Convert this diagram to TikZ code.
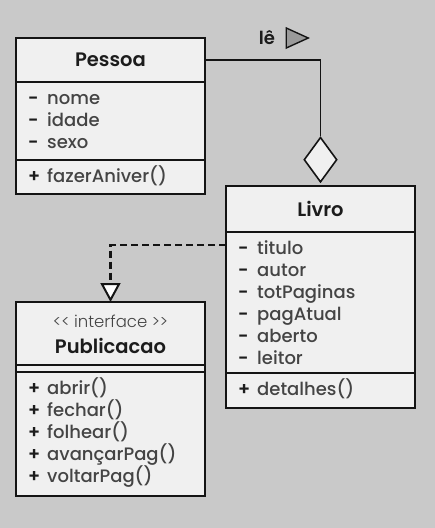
\documentclass[tikz,border=0pt]{standalone}
\usepackage{fontspec}
\setmainfont{Poppins}
\newfontfamily\medfont{Poppins Medium}
\newfontfamily\semifont{Poppins SemiBold}
\newfontfamily\lightfont{Poppins Light}
\usetikzlibrary{calc}
\usetikzlibrary{arrows.meta}
\usetikzlibrary{shapes.geometric}

\definecolor{bgcol}{HTML}{C9C9C9}
\definecolor{boxfill}{HTML}{F0F0F0}
\definecolor{linecol}{HTML}{141414}
\definecolor{titlecol}{HTML}{1C1C1C}
\definecolor{itemcol}{HTML}{444444}
\definecolor{navcol}{HTML}{9A9A9A}

\tikzset{
  classbox/.style={draw=linecol, fill=boxfill, line width=1.8pt, rectangle, anchor=north west, inner sep=0pt, outer sep=0pt, minimum width=189pt},
  classname/.style={font=\fontsize{19.5}{20}\semifont, text=titlecol},
  sign/.style={anchor=mid west, inner sep=0pt, font=\fontsize{18}{18}\semifont, text=titlecol},
  item/.style={anchor=mid west, inner sep=0pt, font=\fontsize{18}{18}\medfont, text=itemcol},
  assoc/.style={draw=linecol, line width=1.6pt},
  realize/.style={draw=linecol, line width=2.6pt, dash pattern=on 7pt off 4pt},
}

% rows of one compartment: node, sign, list
\newcommand{\umlrows}[3]{%
  \foreach \txt [count=\k] in {#3} {
    \node[sign] at ($(#1.north west)+(12,20+22*\k-22)$) {#2};
    \node[item] at ($(#1.north west)+(31,20+22*\k-22)$) {\txt};
  }%
}

\begin{document}
\begin{tikzpicture}[x=1pt,y=1pt,yscale=-1]
\fill[bgcol] (0,0) rectangle (435,528);
\useasboundingbox (0,0) rectangle (435,528);

% Pessoa
\node[classbox, classname, minimum height=44pt] (pessoa) at (16,38) {Pessoa};
\node[classbox, minimum height=78pt] (pessoaattr) at (pessoa.south west) {};
\node[classbox, minimum height=34pt] (pessoaop) at (pessoaattr.south west) {};
\umlrows{pessoaattr}{-}{nome,idade,sexo}
\umlrows{pessoaop}{+}{fazerAniver()}

% Livro
\node[classbox, classname, minimum height=46pt] (livro) at (226,186) {Livro};
\node[classbox, minimum height=141pt] (livroattr) at (livro.south west) {};
\node[classbox, minimum height=35pt] (livroop) at (livroattr.south west) {};
\umlrows{livroattr}{-}{titulo,autor,totPaginas,pagAtual,aberto,leitor}
\umlrows{livroop}{+}{detalhes()}

% Publicacao
\node[classbox, minimum height=63pt] (publ) at (16,302) {};
\node[font=\fontsize{16.5}{17}\lightfont, text=itemcol, inner sep=0pt] (stereo) at ($(publ.north)+(0,19)$) {<{}< interface >{}>};
\node[classname, inner sep=0pt] (publname) at ($(publ.north)+(0,44)$) {Publicacao};
\node[classbox, minimum height=7pt] (publattr) at (publ.south west) {};
\node[classbox, minimum height=124pt] (publop) at (publattr.south west) {};
\umlrows{publop}{+}{abrir(),fechar(),folhear(),avançarPag(),voltarPag()}

% agregacao
\node[diamond, draw=linecol, fill=boxfill, line width=1.6pt, inner sep=0pt, minimum width=33pt, minimum height=45pt, anchor=south] (agg) at ($(livro.north)+(0,-3)$) {};
\draw[assoc] (pessoa.east) -| (agg.north);
\node[font=\fontsize{18}{18}\semifont, text=titlecol, inner sep=0pt] (le) at (267,38) {lê};
\draw[draw=linecol, fill=navcol, line width=1.4pt] ($(le.east)+(11,-10)$) -- ++(22,10) -- ++(-22,10) -- cycle;

% implementa
\coordinate (dep) at ($(livroattr.north west)+(0,13)$);
\draw[realize, -{Triangle[open, length=19pt, width=20pt, line width=2pt, fill=white]}] (dep) -| (publ.north);

\end{tikzpicture}
\end{document}
